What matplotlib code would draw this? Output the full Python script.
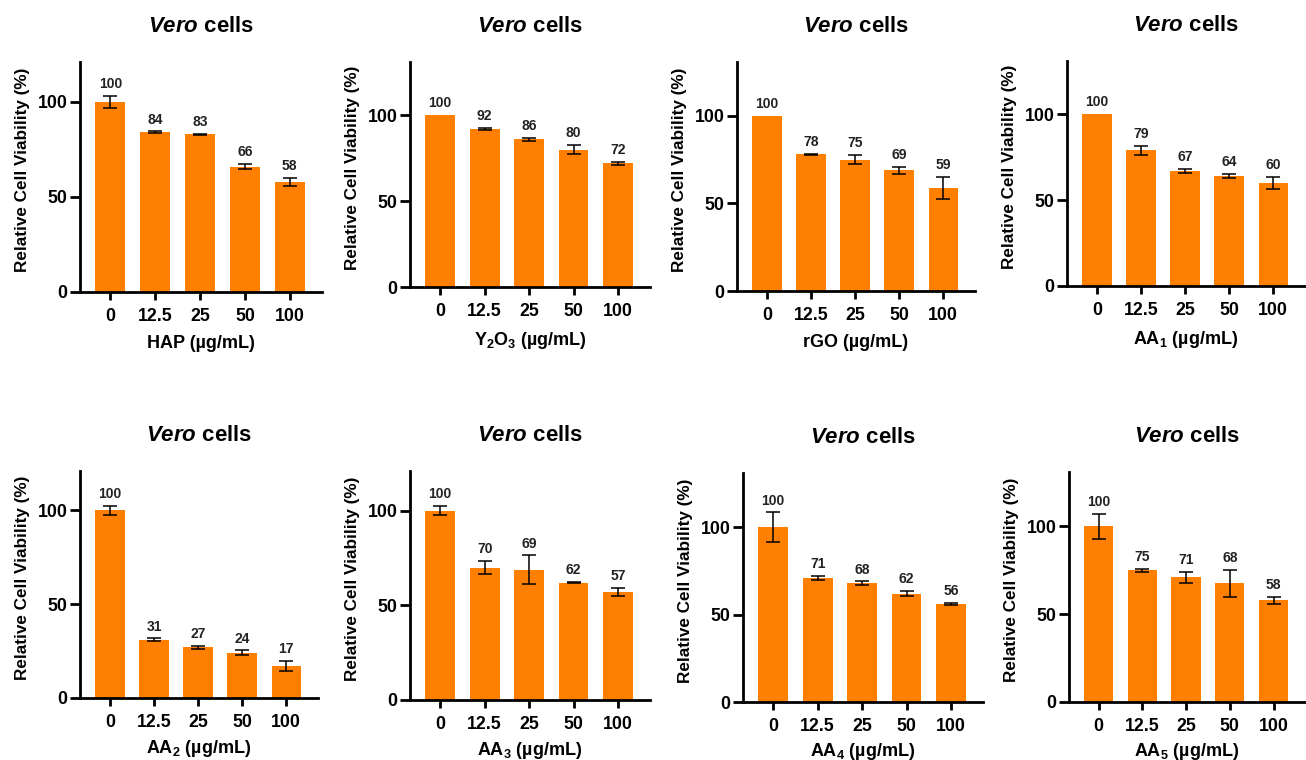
import matplotlib
matplotlib.use("Agg")
import matplotlib.pyplot as plt

plt.rcParams['font.family'] = ['Liberation Sans', 'DejaVu Sans']
plt.rcParams['mathtext.fontset'] = 'custom'
plt.rcParams['mathtext.rm'] = 'Liberation Sans:bold'
plt.rcParams['mathtext.it'] = 'Liberation Sans:italic:bold'
plt.rcParams['mathtext.bf'] = 'Liberation Sans:bold'

# ---- data ----
concentrations = ["0", "12.5", "25", "50", "100"]

hap_vals = [100, 84, 83, 66, 58]
hap_err = [3, 0.5, 0.3, 1.5, 2]

y2o3_vals = [100, 92, 86, 80, 72]
y2o3_err = [0, 0.5, 0.8, 2.5, 1]

rgo_vals = [100, 78, 75, 69, 58.8]
rgo_err = [0, 0.3, 2.5, 2, 6.4]

aa1_vals = [100, 79, 67, 64, 60]
aa1_err = [0, 2.5, 1, 1, 3.5]

aa2_vals = [100, 31, 27, 24, 17]
aa2_err = [2.5, 0.6, 0.8, 1.2, 2.5]

aa3_vals = [100, 70, 68.8, 62, 57]
aa3_err = [2.5, 3.5, 7.6, 0.3, 2]

aa4_vals = [100, 71, 68, 62, 56]
aa4_err = [8.3, 1.2, 1, 1.5, 0.5]

aa5_vals = [100, 75, 71, 67.5, 58]
aa5_err = [7, 1, 3, 7.7, 2]

xlabels = ["HAP (\u00b5g/mL)", "Y$_2$O$_3$ (\u00b5g/mL)", "rGO (\u00b5g/mL)", "AA$_1$ (\u00b5g/mL)",
           "AA$_2$ (\u00b5g/mL)", "AA$_3$ (\u00b5g/mL)", "AA$_4$ (\u00b5g/mL)", "AA$_5$ (\u00b5g/mL)"]
series = [(hap_vals, hap_err), (y2o3_vals, y2o3_err), (rgo_vals, rgo_err), (aa1_vals, aa1_err),
          (aa2_vals, aa2_err), (aa3_vals, aa3_err), (aa4_vals, aa4_err), (aa5_vals, aa5_err)]

# ---- layout (pixels: left, right, bottom, top) ----
W, H = 1306, 760
boxes = [(80, 322, 292, 62), (410, 650, 287.3, 61.7), (737, 975, 291, 61.7), (1067, 1305, 286, 61),
         (80, 318, 697.7, 471), (410, 650, 700, 471), (743, 983, 702.3, 472.7), (1069, 1305, 702, 472)]
ytops = [121, 131, 131, 131, 121, 121, 131, 131]
xlabel_pads = [7, 7, 7, 7, 5, 5, 4, 4]

ORANGE = '#FF8000'

fig = plt.figure(figsize=(W / 100, H / 100), dpi=100)

for (vals, errs), xl, (l, r, b, t), ytop, lp in zip(series, xlabels, boxes, ytops, xlabel_pads):
    ax = fig.add_axes([l / W, 1 - b / H, (r - l) / W, (b - t) / H])
    x = list(range(len(concentrations)))
    ax.bar(x, vals, width=0.67, color=ORANGE, edgecolor='none', zorder=2)
    ex = [xi for xi, e in zip(x, errs) if e > 0]
    ev = [v for v, e in zip(vals, errs) if e > 0]
    ee = [e for e in errs if e > 0]
    ax.errorbar(ex, ev, yerr=ee, fmt='none', ecolor='black', elinewidth=1.1,
                capsize=5, capthick=1.1, zorder=3)
    for xi, v, e in zip(x, vals, errs):
        ax.annotate(f"{round(v)}", (xi, v + e), xytext=(0, 3.5), textcoords='offset points',
                    ha='center', va='bottom', fontsize=10, fontweight='bold', color='#222222')
    ax.set_xlim(-0.68, 4.72)
    ax.set_ylim(0, ytop)
    ax.set_yticks([0, 50, 100])
    ax.set_xticks(x)
    ax.set_xticklabels(concentrations)
    for s in ['top', 'right']:
        ax.spines[s].set_visible(False)
    for s in ['left', 'bottom']:
        ax.spines[s].set_linewidth(2.0)
    ax.tick_params(axis='both', width=2.0, labelsize=12.8)
    ax.tick_params(axis='y', length=7, pad=2)
    ax.tick_params(axis='x', length=6, pad=5.5)
    for lab in ax.get_xticklabels() + ax.get_yticklabels():
        lab.set_fontweight('bold')
    ax.set_ylabel("Relative Cell Viability (%)", fontsize=12.3, fontweight='bold')
    ax.yaxis.set_label_coords(-50 / (r - l), 0.53)
    ax.set_xlabel(xl, fontsize=13, fontweight='bold', labelpad=lp)
    ax.set_title("$\\mathit{Vero}$ cells", fontsize=16, fontweight='bold', pad=21.5)

fig.savefig("out.png", dpi=100)
